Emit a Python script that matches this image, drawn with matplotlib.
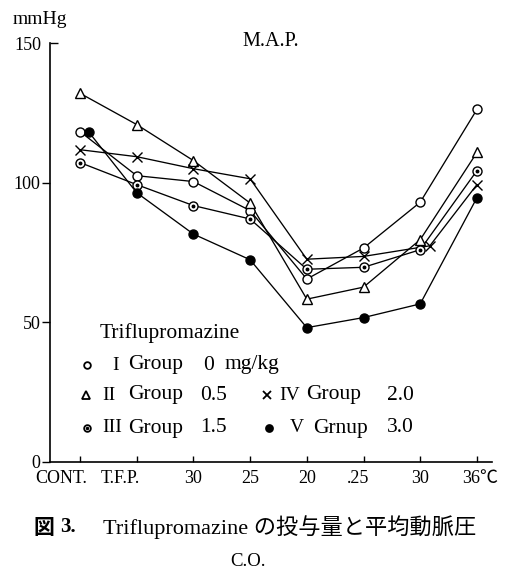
import matplotlib
matplotlib.use('Agg')
import matplotlib.pyplot as plt
from matplotlib.ticker import FixedLocator, FixedFormatter
from matplotlib.transforms import ScaledTranslation
import numpy as np

plt.rcParams['font.family'] = ['Liberation Serif', 'Noto Sans CJK JP']

# stages of the experiment (x axis)
stages = ['CONT.', 'T.F.P.', '30', '25', '20', '.25', '30', '36℃']

# mean arterial pressure, mmHg
group_1 = [118.3, 102.5, 100.4, 90.0, 65.5, 76.6, 93.0, 126.2]   # 0 mg/kg
group_2 = [132.0, 120.8, 107.9, 92.7, 58.3, 62.6, 79.6, 110.8]   # 0.5
group_3 = [107.2, 99.3, 91.8, 87.0, 69.0, 69.7, 76.0, 104.3]     # 1.5
group_4 = [111.8, 109.3, 105.0, 101.4, 72.6, 73.6, 77.4, 99.3]   # 2.0
group_5 = [118.0, 96.4, 81.6, 72.4, 48.1, 51.7, 56.6, 94.6]      # 3.0

# small sideways shifts used in the original print so markers don't overlap
shift_4 = [0, 0, 0, 0, 0, 0, 0.17, 0]
shift_5 = [0.16, 0, 0, 0, 0, 0, 0, 0]

legend_numerals = ['I', 'II', 'III', 'IV', 'V']
legend_words = ['Group', 'Group', 'Group', 'Group', 'Grnup']
legend_doses = ['0', '0.5', '1.5', '2.0', '3.0']

fig = plt.figure(figsize=(5.1, 5.75), dpi=100)
W, H = 510, 575
ax = fig.add_axes([50 / W, 1 - 462 / H, 442 / W, 419 / H])

x = np.arange(len(stages))
lw = 0.95
ms = 6.5

def draw(vals, marker, shift=None, dotted=False, filled=False):
    xs = x + (np.array(shift) if shift is not None else 0)
    ax.plot(xs, vals, color='black', lw=lw, zorder=2)
    ax.plot(xs, vals, ls='none', marker=marker, ms=ms, mew=1.0,
            mec='black', mfc='black' if filled else 'white', zorder=3)
    if dotted:
        ax.plot(xs, vals, ls='none', marker='o', ms=1.8, color='black', zorder=4)

draw(group_1, 'o')
draw(group_2, '^')
draw(group_3, 'o', dotted=True)
draw(group_4, 'x', shift=shift_4)
draw(group_5, 'o', shift=shift_5, filled=True)

ax.set_xlim(-0.529, 7.266)
ax.set_ylim(0, 150)
ax.spines['top'].set_visible(False)
ax.spines['right'].set_visible(False)
for s in ['left', 'bottom']:
    ax.spines[s].set_linewidth(1.2)

ax.set_xticks(x)
ax.set_xticklabels(stages, fontsize=13)
ax.tick_params(axis='x', direction='in', length=4, width=1.0, pad=6)
label_dx = [-19, -16, 0, 0, 0, -5, 0, 3]
for lab, dx in zip(ax.get_xticklabels(), label_dx):
    lab.set_transform(lab.get_transform() + ScaledTranslation(dx / 100, 0, fig.dpi_scale_trans))

ax.set_yticks([0, 50, 100])
ax.set_yticklabels(['0', '50', '100'], fontsize=13)
ax.tick_params(axis='y', which='major', direction='out', length=6, width=1.0, pad=1)
ax.yaxis.set_minor_locator(FixedLocator([150]))
ax.yaxis.set_minor_formatter(FixedFormatter(['150']))
ax.tick_params(axis='y', which='minor', direction='in', length=6, width=1.0, pad=6,
               labelsize=13)

# titles
fig.text(13 / W, 1 - 20 / H, 'mmHg', fontsize=14, ha='left', va='center')
fig.text(271 / W, 1 - 42 / H, 'M.A.P.', fontsize=14.5, ha='center', va='center')

# legend, drawn by hand like the printed one
def fx(px):
    return (px - 50) / 442

def fy(py):
    return (462 - py) / 419

tr = ax.transAxes
fs = 15.5
ax.text(fx(100), fy(333), 'Triflupromazine', transform=tr, fontsize=fs,
        ha='left', va='center')
rows = [365, 395, 428, 395, 428]
mark_x = [87, 86, 87, 267, 269]
num_x = [112, 102, 102, 279, 290]
word_x = [128, 128, 128, 306, 313]
dose_x = [203, 200, 200, 387, 387]
leg_markers = [('o', 'white', 4.8), ('^', 'white', 5.5), ('o', 'white', 4.8),
               ('x', 'white', 5.5), ('o', 'black', 5.0)]
for i in range(5):
    m, fc, size = leg_markers[i]
    ax.plot([fx(mark_x[i])], [fy(rows[i])], transform=tr, marker=m, ms=size,
            mec='black', mfc=fc, mew=1.3, ls='none', clip_on=False)
    if i == 2:
        ax.plot([fx(mark_x[i])], [fy(rows[i])], transform=tr, marker='o', ms=1.5,
                color='black', ls='none', clip_on=False)
    ax.text(fx(num_x[i]), fy(rows[i]), legend_numerals[i], transform=tr,
            fontsize=fs - 1.5, ha='left', va='center')
    ax.text(fx(word_x[i]), fy(rows[i]), legend_words[i], transform=tr,
            fontsize=fs, ha='left', va='center')
    ax.text(fx(dose_x[i]), fy(rows[i]), legend_doses[i], transform=tr,
            fontsize=fs, ha='left', va='center')
ax.text(fx(225), fy(365), 'mg/kg', transform=tr, fontsize=fs, ha='left', va='center')

# caption
fig.text(33 / W, 1 - 527 / H, '図', fontsize=15, fontweight='bold',
         family='Noto Sans CJK JP', ha='left', va='center')
fig.text(60 / W, 1 - 527 / H, '3.', fontsize=15, fontweight='bold',
         ha='left', va='center')
fig.text(103 / W, 1 - 527 / H, 'Triflupromazine の投与量と平均動脈圧', fontsize=16,
         ha='left', va='center')
fig.text(248 / W, 1 - 562 / H, 'C.O.', fontsize=13.5, ha='center', va='center')

fig.savefig('out.png', dpi=100)
